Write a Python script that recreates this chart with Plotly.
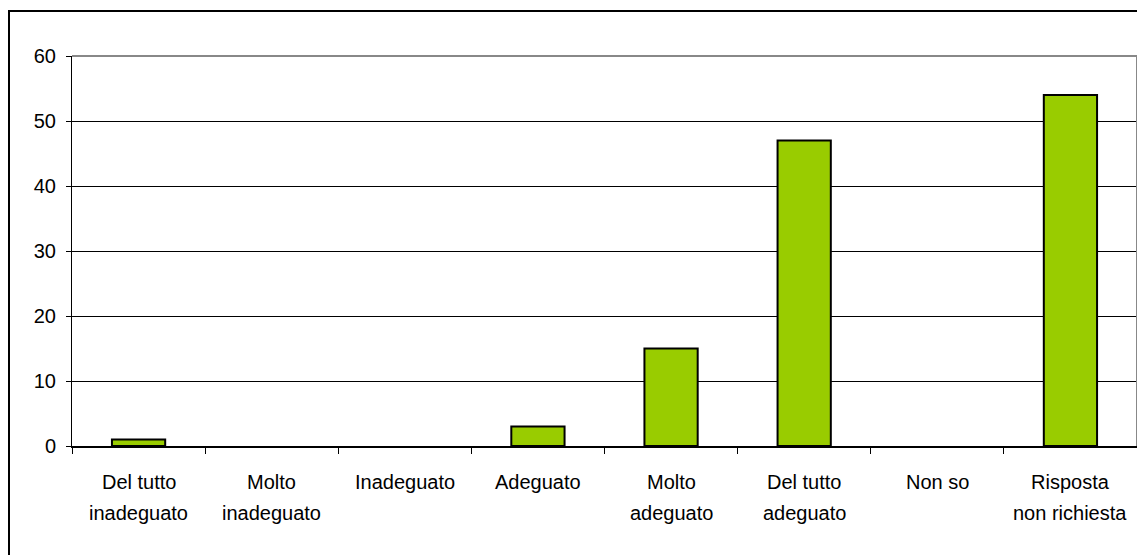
import plotly.graph_objects as go

# Categories (two text lines each) and values
line1 = ["Del tutto", "Molto", "Inadeguato", "Adeguato", "Molto", "Del tutto", "Non so", "Risposta"]
line2 = ["inadeguato", "inadeguato", "", "", "adeguato", "adeguato", "", "non richiesta"]
values = [1, 0, 0, 3, 15, 47, 0, 54]
cats = [a + " " + b if b else a for a, b in zip(line1, line2)]
y_ticks = [0, 10, 20, 30, 40, 50, 60]

# the page body adds an 8px offset, so the figure is a bit smaller than the window
W, H = 1137, 547
L, R, T, B = 64, 8, 48, 109
pw, ph = W - L - R, H - T - B

fig = go.Figure()

fig.add_trace(go.Bar(
    x=cats,
    y=values,
    marker=dict(color="#99CC00",
                line=dict(color="black", width=[2 if v else 0 for v in values])),
    width=0.4,
))

# Category labels below the axis
for c, a, b in zip(cats, line1, line2):
    fig.add_annotation(x=c, y=0, xref="x", yref="paper", text=a, showarrow=False,
                       yanchor="middle", yshift=-36, font=dict(size=20, color="black"))
    if b:
        fig.add_annotation(x=c, y=0, xref="x", yref="paper", text=b, showarrow=False,
                           yanchor="middle", yshift=-67, font=dict(size=20, color="black"))

# Gray border on top and right of the plot area
fig.add_shape(type="line", xref="paper", yref="paper", x0=0, x1=1, y0=1, y1=1,
              line=dict(color="#888888", width=2))
fig.add_shape(type="line", xref="paper", yref="paper", x0=1, x1=1, y0=0, y1=1,
              line=dict(color="#888888", width=2))

# Outer chart frame
fig.add_shape(type="rect", xref="paper", yref="paper",
              x0=(1 - L) / pw, x1=(W + 20 - L) / pw,
              y0=-(B + 20) / ph, y1=(T - 3) / ph + 1,
              line=dict(color="black", width=2))

fig.update_layout(
    width=W, height=H,
    margin=dict(l=L, r=R, t=T, b=B),
    paper_bgcolor="white",
    plot_bgcolor="white",
    showlegend=False,
    font=dict(family="Liberation Sans, Arial", size=20, color="black"),
    xaxis=dict(
        showticklabels=False,
        ticks="outside", tickson="boundaries", ticklen=6, tickcolor="black",
        showline=True, linecolor="black", linewidth=2,
        showgrid=False,
    ),
    yaxis=dict(
        range=[0, 60], tickvals=y_ticks,
        ticks="outside", ticklen=5, tickcolor="black",
        showline=True, linecolor="black", linewidth=1,
        showgrid=True, gridcolor="black", gridwidth=1,
        zeroline=False, ticklabelstandoff=6,
    ),
)

fig.write_html("out.html")
